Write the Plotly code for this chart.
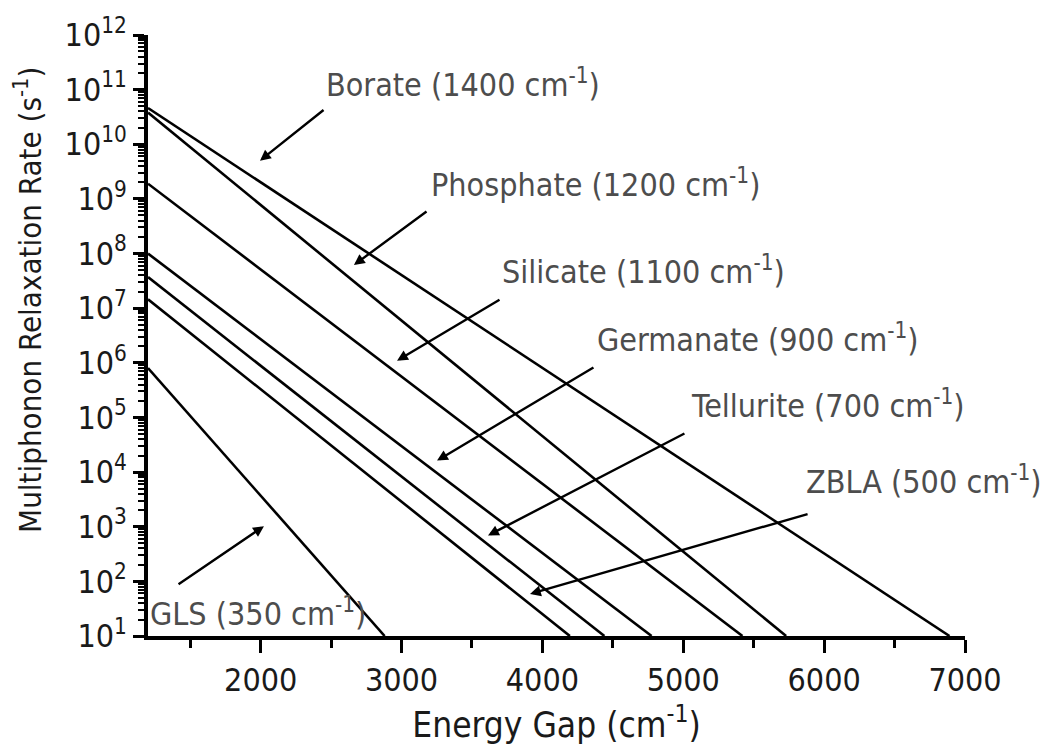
import plotly.graph_objects as go

# ---- data ----
materials = ["Borate", "Phosphate", "Silicate", "Germanate", "Tellurite", "ZBLA", "GLS"]
phonon_energy = [1400, 1200, 1100, 900, 700, 500, 350]
gap_start = [1200, 1200, 1200, 1200, 1200, 1200, 1200]
rate_start = [4.6e10, 3.8e10, 1.9e9, 1.0e8, 3.7e7, 1.45e7, 8.0e5]
gap_end = [6890, 5730, 5420, 4775, 4440, 4195, 2880]
rate_end = [10, 10, 10, 10, 10, 10, 10]

x_ticks = [2000, 3000, 4000, 5000, 6000, 7000]
y_exponents = list(range(1, 13))

# label anchor (left, middle) in data units: energy gap, log10(rate)
label_x = [2450, 3195, 3700, 4375, 5040, 5857, 1200]
label_y = [11.12, 9.30, 7.69, 6.45, 5.25, 3.85, 1.44]
# arrow tail and head (energy gap, log10 rate)
arrow_tail_x = [2457, 3188, 3706, 4373, 5019, 5893, 1406]
arrow_tail_y = [10.65, 8.79, 7.17, 5.93, 4.72, 3.24, 1.93]
arrow_head_x = [1995, 2662, 2968, 3252, 3614, 3912, 2023]
arrow_head_y = [9.70, 7.79, 6.04, 4.21, 2.84, 1.77, 3.01]

FONT = "DejaVu Sans Condensed, Noto Sans, sans-serif"
TXT = "#1a1a1a"

fig = go.Figure()
for i, m in enumerate(materials):
    fig.add_trace(go.Scatter(
        x=[gap_start[i], gap_end[i]], y=[rate_start[i], rate_end[i]],
        mode="lines", line=dict(color="black", width=2.6),
        name=m, showlegend=False, cliponaxis=False,
    ))

annotations = []
for i, m in enumerate(materials):
    annotations.append(dict(
        x=label_x[i], y=label_y[i], xref="x", yref="y",
        text=f"{m} ({phonon_energy[i]} cm<sup>-1</sup>)",
        showarrow=False, xanchor="left", yanchor="middle",
        font=dict(family=FONT, size=32, color="#4d4d4d"),
    ))
    annotations.append(dict(
        x=arrow_head_x[i], y=arrow_head_y[i], xref="x", yref="y",
        ax=arrow_tail_x[i], ay=arrow_tail_y[i], axref="x", ayref="y",
        text="", showarrow=True, arrowhead=2, arrowsize=0.9,
        arrowwidth=2.4, arrowcolor="black", standoff=0, startstandoff=0,
    ))

# y-axis title placed as a rotated annotation
annotations.append(dict(
    x=-0.147, y=0.559, xref="paper", yref="paper",
    text="Multiphonon Relaxation Rate (s<sup>-1</sup>)", textangle=-90,
    showarrow=False, xanchor="center", yanchor="middle",
    font=dict(family=FONT, size=31, color=TXT),
))

fig.update_layout(
    width=1047, height=747,
    margin=dict(l=148, r=82, t=34, b=110),
    plot_bgcolor="white", paper_bgcolor="white",
    font=dict(family=FONT, size=32, color=TXT),
    annotations=annotations,
    xaxis=dict(
        range=[1200, 7000], tickvals=x_ticks, ticktext=[str(v) for v in x_ticks],
        showgrid=False, zeroline=False, showline=True, linecolor="black", linewidth=3.5,
        ticks="outside", ticklen=13, tickwidth=3, tickcolor="black",
        minor=dict(dtick=500, tick0=1500, ticks="outside", ticklen=8, tickwidth=2.5,
                   tickcolor="black", showgrid=False),
        title=dict(text="Energy Gap (cm<sup>-1</sup>)", standoff=11,
                   font=dict(family=FONT, size=35, color=TXT)),
        tickfont=dict(family=FONT, size=32, color=TXT),
    ),
    yaxis=dict(
        type="log", range=[1, 12],
        tickvals=[10 ** e for e in y_exponents],
        ticktext=[f"10<sup>{e}</sup>" for e in y_exponents],
        showgrid=False, zeroline=False, showline=True, linecolor="black", linewidth=3.5,
        ticks="outside", ticklen=11, tickwidth=3, tickcolor="black",
        minor=dict(dtick="D1", ticks="outside", ticklen=6, tickwidth=2,
                   tickcolor="black", showgrid=False),
        tickfont=dict(family=FONT, size=32, color=TXT),
    ),
)

fig.write_html("out.html")
